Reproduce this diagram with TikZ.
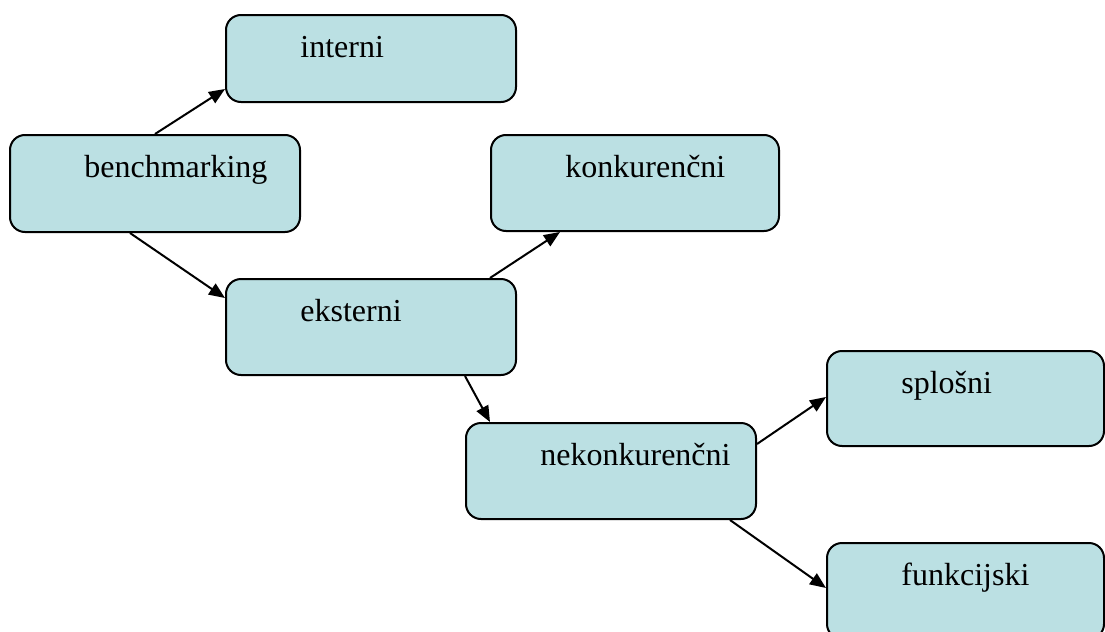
\documentclass[tikz,border=0pt]{standalone}
\usepackage{fontspec}
\setmainfont{Liberation Serif}
\usetikzlibrary{arrows.meta}

\definecolor{boxfill}{RGB}{187,224,227}

\tikzset{
  lbl/.style={anchor=base west, xshift=37.5pt, yshift=-21.5pt, inner sep=0pt,
    font=\fontsize{16}{19}\selectfont},
  box/.style={draw, line width=1pt, fill=boxfill, rounded corners=7.5pt,
    anchor=north west, inner sep=0pt, minimum width=145pt, minimum height=48pt,
    label distance=0pt, label={[lbl]north west:#1}},
  link/.style={line width=1pt, -{Triangle[length=8pt,width=6.5pt]}},
}

\begin{document}
\begin{tikzpicture}[x=0.5pt, y=-0.5pt]
  \useasboundingbox (0,0) rectangle (1105,632);
  \clip (0,0) rectangle (1105,632);

  % boxes
  \node[box=interni, minimum height=43.5pt] (int) at (225,14) {};
  \node[box=benchmarking, minimum height=48.5pt] (bench) at (9,134) {};
  \node[box=konkurenčni, minimum width=144pt] (konk) at (490,134) {};
  \node[box=eksterni] (eks) at (225,278) {};
  \node[box=nekonkurenčni] (nekonk) at (465,422) {};
  \node[box=splošni, minimum width=138.5pt, minimum height=47.5pt] (splos) at (826,350) {};
  \node[box=funkcijski, minimum width=138.5pt] (funk) at (826,542) {};

  % arrows
  \draw[link] ([xshift=73pt]bench.north west) -- ([yshift=7pt]int.south west);
  \draw[link] ([xshift=60.5pt]bench.south west) -- ([yshift=-10pt]eks.north west);
  \draw[link] ([xshift=132.5pt]eks.north west) -- ([xshift=35pt]konk.south west);
  \draw[link] ([xshift=120pt]eks.south west) -- ([xshift=12.5pt]nekonk.north west);
  \draw[link] ([yshift=-11pt]nekonk.north east) -- ([yshift=-23.5pt]splos.north west);
  \draw[link] ([xshift=132.5pt]nekonk.south west) -- ([yshift=-23pt]funk.north west);
\end{tikzpicture}
\end{document}
